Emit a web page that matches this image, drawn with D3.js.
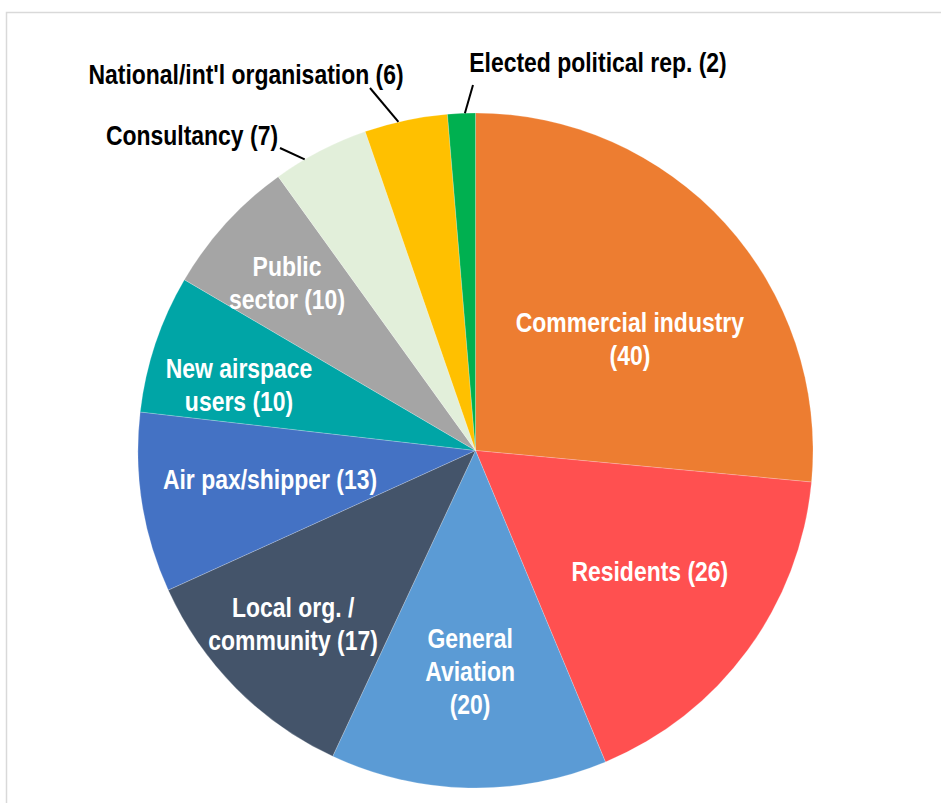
<!DOCTYPE html>
<html>
<head>
<meta charset="utf-8">
<script src="https://cdn.jsdelivr.net/npm/d3@7"></script>
<style>
  html, body { margin: 0; padding: 0; background: #fff; }
  svg text { font-family: "Liberation Sans", Arial, sans-serif; font-weight: bold; }
</style>
</head>
<body>
<svg id="chart" width="941" height="803"></svg>
<script>
// Stakeholder groups, clockwise from 12 o'clock
const categories = [
  "Commercial industry", "Residents", "General Aviation", "Local org. / community",
  "Air pax/shipper", "New airspace users", "Public sector", "Consultancy",
  "National/int'l organisation", "Elected political rep."
];
const counts = [40, 26, 20, 17, 13, 10, 10, 7, 6, 2];
const colors = [
  "#ED7D31", "#FF5050", "#5B9BD5", "#44546A", "#4472C4",
  "#00A5A6", "#A5A5A5", "#E2EFDA", "#FFC000", "#00B050"
];
// Label text, one entry per line
const labelLines = [
  ["Commercial industry", "(40)"],
  ["Residents (26)"],
  ["General", "Aviation", "(20)"],
  ["Local org. /", "community (17)"],
  ["Air pax/shipper (13)"],
  ["New airspace", "users (10)"],
  ["Public", "sector (10)"],
  ["Consultancy (7)"],
  ["National/int'l organisation (6)"],
  ["Elected political rep. (2)"]
];

const svg = d3.select("#chart");
const W = 941, H = 803;

// chart area frame
svg.append("rect")
  .attr("x", 6.5).attr("y", 12.5)
  .attr("width", W + 20).attr("height", H + 20)
  .attr("fill", "none").attr("stroke", "#d9d9d9").attr("stroke-width", 1.5);

const cx = 475.5, cy = 450.5, R = 337.5;
const data = categories.map((c, i) => ({ name: c, value: counts[i], color: colors[i], lines: labelLines[i] }));

const pie = d3.pie().value(d => d.value).sort(null);
const arcs = pie(data);
const arc = d3.arc().innerRadius(0).outerRadius(R);

const g = svg.append("g").attr("transform", `translate(${cx},${cy})`);
g.selectAll("path.slice")
  .data(arcs)
  .join("path")
  .attr("class", "slice")
  .attr("d", arc)
  .attr("fill", d => d.data.color)
  .attr("stroke", "#ffffff")
  .attr("stroke-opacity", 0.35)
  .attr("stroke-width", 0.6);

// inside label anchors: radius as a fraction of R, angle in degrees clockwise from top
const insideAt = {
  0: { r: 0.564, a: 54.2 },
  1: { r: 0.629, a: 124.8 },
  2: { r: 0.655, a: 181.4 },
  3: { r: 0.745, a: 226.5 },
  4: { r: 0.615, a: 261.9 },
  5: { r: 0.727, a: 285.5 },
  6: { r: 0.748, a: 311.7 }
};
const lineH = 33;
const fontSize = 27;
const xScale = 0.85;
const rad = deg => deg * Math.PI / 180;

function drawLabel(x, y, lines, anchor, fill) {
  const t = svg.append("g")
    .attr("transform", `translate(${x},${y}) scale(${xScale},1)`)
    .append("text")
    .attr("text-anchor", anchor)
    .attr("fill", fill)
    .attr("font-size", fontSize);
  lines.forEach((ln, k) => {
    t.append("tspan").attr("x", 0).attr("y", k * lineH).text(ln);
  });
}

arcs.forEach((a, i) => {
  const p = insideAt[i];
  if (p === undefined) return;
  const px = cx + R * p.r * Math.sin(rad(p.a));
  const py = cy - R * p.r * Math.cos(rad(p.a));
  const n = a.data.lines.length;
  // centre the text block on the anchor point
  const y0 = py - (n - 1) * lineH / 2 + fontSize * 0.35;
  drawLabel(px, y0, a.data.lines, "middle", "#ffffff");
});

// outside labels with leader lines running to the rim
const outside = [
  { i: 7, tx: 192, ty: 145, lead: [280, 148], rimAngle: 329.6 },
  { i: 8, tx: 246, ty: 84, lead: [370, 88], rimAngle: 346.8 },
  { i: 9, tx: 598, ty: 72, lead: [473, 85], rimAngle: 358.2 }
];
outside.forEach(o => {
  const a = arcs[o.i];
  const ex = cx + R * Math.sin(rad(o.rimAngle));
  const ey = cy - R * Math.cos(rad(o.rimAngle));
  svg.append("line")
    .attr("x1", o.lead[0]).attr("y1", o.lead[1])
    .attr("x2", ex).attr("y2", ey)
    .attr("stroke", "#000").attr("stroke-width", 2);
  drawLabel(o.tx, o.ty, a.data.lines, "middle", "#000000");
});
</script>
</body>
</html>
